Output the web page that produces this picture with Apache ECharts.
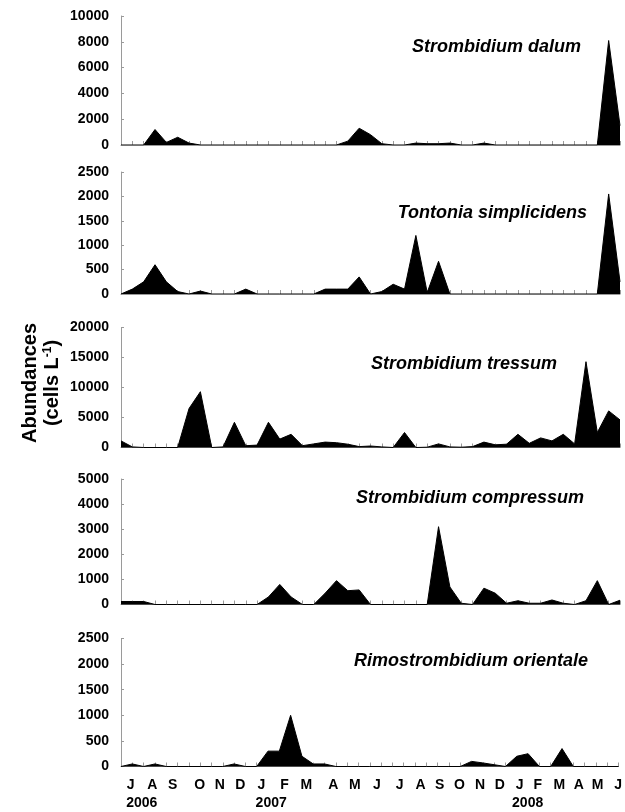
<!DOCTYPE html>
<html>
<head>
<meta charset="utf-8">
<script src="https://cdn.jsdelivr.net/npm/echarts@6/dist/echarts.min.js"></script>
<style>
html,body{margin:0;padding:0;background:#fff;}
#chart{width:625px;height:812px;}
</style>
</head>
<body>
<div id="chart"></div>
<script>
// Sampling occasions (index along the x axis), July 2006 – June 2008
const sampleCount = 45;

// Species names
const speciesNames = [
  'Strombidium dalum',
  'Tontonia simplicidens',
  'Strombidium tressum',
  'Strombidium compressum',
  'Rimostrombidium orientale'
];

// Abundances (cells L-1) per sampling occasion
const dalum = [0,0,0,1200,200,600,150,0,0,0,0,0,0,0,0,0,0,0,0,0,300,1300,800,100,0,0,150,100,100,150,0,0,150,0,0,0,0,0,0,0,0,0,0,8100,1500];
const tontonia = [0,100,250,600,250,50,0,60,0,0,0,100,0,0,0,0,0,0,100,100,100,350,0,50,200,100,1200,30,670,0,0,0,0,0,0,0,0,0,0,0,0,0,0,2050,250];
const tressum = [1100,100,0,0,0,0,6500,9300,0,100,4200,300,400,4200,1400,2200,300,600,900,800,550,150,250,100,0,2500,0,50,600,100,50,150,900,450,550,2200,700,1600,1100,2200,600,14300,2500,6100,4600];
const compressum = [120,120,120,0,0,0,0,0,0,0,0,0,0,300,800,300,0,0,450,950,550,580,0,0,0,0,0,0,3100,700,50,0,650,450,50,150,50,50,180,50,0,150,950,0,170];
const rimo = [0,50,0,50,0,0,0,0,0,0,50,0,0,300,300,1000,200,50,50,0,0,0,0,0,0,0,0,0,0,0,0,100,70,35,0,200,250,0,0,350,0,0,0,0,0];

const seriesValues = [dalum, tontonia, tressum, compressum, rimo];

// Y-axis scales
const yMax = [10000, 2500, 20000, 5000, 2500];
const yStep = [2000, 500, 5000, 1000, 500];

// Month tick labels (position in sample-index units)
const monthLabels = ['J','A','S','O','N','D','J','F','M','A','M','J','J','A','S','O','N','D','J','F','M','A','M','J'];
const monthPos = [0.86,2.76,4.56,6.97,8.73,10.56,12.41,14.46,16.38,18.78,20.68,22.64,24.65,26.5,28.17,29.94,31.75,33.5,35.25,36.86,38.76,40.48,42.15,43.96];
const yearLabels = ['2006','2007','2008'];
const yearPos = [1.84,13.28,35.96];

// ---- layout ----
const gridTops = [16, 172, 327.5, 479, 638.5];
const gridHeights = [129, 122, 120, 125.5, 128];
const titleRight = [44, 38, 68, 41, 37];
const titleTop = [38, 204, 355, 489, 652];

const FONT = '"Liberation Sans", Arial, sans-serif';
const axisGray = '#9a9a9a';

function nearestLabel(v, pos, labels) {
  let best = 0, d = 1e9;
  pos.forEach((p, i) => { if (Math.abs(p - v) < d) { d = Math.abs(p - v); best = i; } });
  return labels[best];
}

const grids = [], xAxes = [], yAxes = [], series = [], titles = [];
for (let k = 0; k < 5; k++) {
  grids.push({left: 121, right: 5, top: gridTops[k], height: gridHeights[k]});
  const isBottom = k === 4;
  xAxes.push({
    type: 'value', gridIndex: k, min: 0, max: sampleCount - 1, interval: 1,
    axisLine: {show: true, lineStyle: {color: axisGray, width: 1}},
    axisTick: {show: true, inside: true, length: 4, lineStyle: {color: axisGray}},
    splitLine: {show: false},
    axisLabel: isBottom ? {
      show: true, customValues: monthPos, margin: 12,
      color: '#000', fontFamily: FONT, fontWeight: 'bold', fontSize: 14,
      formatter: v => nearestLabel(v, monthPos, monthLabels)
    } : {show: false}
  });
  yAxes.push({
    type: 'value', gridIndex: k, min: 0, max: yMax[k], interval: yStep[k],
    axisLine: {show: true, lineStyle: {color: axisGray, width: 1}},
    axisTick: {show: true, inside: true, length: 3, lineStyle: {color: axisGray}},
    splitLine: {show: false},
    axisLabel: {color: '#000', fontFamily: FONT, fontWeight: 'bold', fontSize: 14, margin: 12,
      formatter: v => String(Math.round(v))}
  });
  series.push({
    type: 'line', xAxisIndex: k, yAxisIndex: k,
    data: seriesValues[k].map((v, i) => [i, v]),
    symbol: 'none', showSymbol: false, smooth: false,
    lineStyle: {color: '#000', width: 1},
    areaStyle: {color: '#000', opacity: 1},
    silent: true, animation: false
  });
  titles.push({
    text: speciesNames[k], right: titleRight[k], top: titleTop[k], padding: 0,
    textStyle: {fontFamily: FONT, fontWeight: 'bold', fontStyle: 'italic', fontSize: 18, color: '#000'}
  });
}
// Year labels axis under the month labels
xAxes.push({
  type: 'value', gridIndex: 4, position: 'bottom', min: 0, max: sampleCount - 1,
  axisLine: {show: false}, axisTick: {show: false}, splitLine: {show: false},
  axisLabel: {
    show: true, customValues: yearPos, margin: 30,
    color: '#000', fontFamily: FONT, fontWeight: 'bold', fontSize: 14,
    formatter: v => nearestLabel(v, yearPos, yearLabels)
  }
});

const chart = echarts.init(document.getElementById('chart'), null, {renderer: 'canvas'});
chart.setOption({
  animation: false,
  backgroundColor: '#fff',
  title: titles,
  grid: grids,
  xAxis: xAxes,
  yAxis: yAxes,
  series: series,
  graphic: [{
    type: 'text',
    x: 41, y: 383,
    rotation: Math.PI / 2,
    style: {
      text: '{a|Abundances}\n{a|(cells L}{s|-1}{a|)}',
      align: 'center', verticalAlign: 'middle',
      fill: '#000',
      rich: {
        a: {fontFamily: FONT, fontWeight: 'bold', fontSize: 20, lineHeight: 22, fill: '#000'},
        s: {fontFamily: FONT, fontWeight: 'bold', fontSize: 12, lineHeight: 22, padding: [0, 0, 9, 0], fill: '#000'}
      }
    }
  }]
});
</script>
</body>
</html>
